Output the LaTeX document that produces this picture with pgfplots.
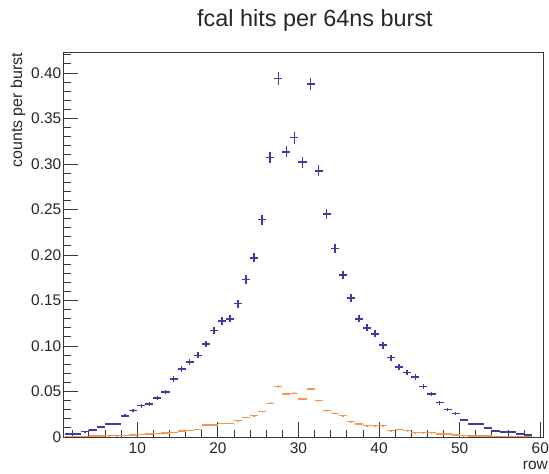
\documentclass[border=0pt]{standalone}
\usepackage{pgfplots}
\pgfplotsset{compat=1.18}
\usepackage{pgfplotstable}
\usepackage{fontspec}
\setmainfont{Liberation Sans}
\definecolor{hblue}{RGB}{60,60,160}
\definecolor{horange}{RGB}{245,150,80}
\definecolor{axgray}{RGB}{55,55,55}

\pgfplotstableread{
x y ey
1.5 0.0030 0.0006
2.5 0.0035 0.0007
3.5 0.0060 0.0009
4.5 0.0077 0.0010
5.5 0.0110 0.0012
6.5 0.0143 0.0014
7.5 0.0143 0.0014
8.5 0.0234 0.0017
9.5 0.0290 0.0019
10.5 0.0344 0.0021
11.5 0.0363 0.0022
12.5 0.0427 0.0023
13.5 0.0497 0.0025
14.5 0.0637 0.0029
15.5 0.0747 0.0031
16.5 0.0824 0.0032
17.5 0.0897 0.0034
18.5 0.1020 0.0036
19.5 0.1170 0.0039
20.5 0.1275 0.0040
21.5 0.1300 0.0041
22.5 0.1465 0.0043
23.5 0.1730 0.0047
24.5 0.1970 0.0050
25.5 0.2390 0.0055
26.5 0.3070 0.0063
27.5 0.3940 0.0071
28.5 0.3135 0.0063
29.5 0.3290 0.0065
30.5 0.3020 0.0062
31.5 0.3880 0.0070
32.5 0.2926 0.0061
33.5 0.2450 0.0056
34.5 0.2070 0.0051
35.5 0.1780 0.0048
36.5 0.1530 0.0044
37.5 0.1300 0.0041
38.5 0.1200 0.0039
39.5 0.1135 0.0038
40.5 0.1008 0.0036
41.5 0.0872 0.0033
42.5 0.0769 0.0031
43.5 0.0707 0.0030
44.5 0.0660 0.0029
45.5 0.0553 0.0027
46.5 0.0470 0.0024
47.5 0.0377 0.0022
48.5 0.0304 0.0020
49.5 0.0260 0.0018
50.5 0.0187 0.0015
51.5 0.0140 0.0013
52.5 0.0140 0.0013
53.5 0.0096 0.0011
54.5 0.0069 0.0009
55.5 0.0052 0.0008
56.5 0.0052 0.0008
57.5 0.0033 0.0006
58.5 0.0019 0.0005
}\bluedata

\pgfplotstableread{
x y ey
1.5 0.0005 0.0002
2.5 0.0006 0.0002
3.5 0.0008 0.0002
4.5 0.0010 0.0003
5.5 0.0012 0.0003
6.5 0.0014 0.0003
7.5 0.0015 0.0003
8.5 0.0018 0.0003
9.5 0.0021 0.0003
10.5 0.0030 0.0004
11.5 0.0035 0.0004
12.5 0.0040 0.0005
13.5 0.0045 0.0005
14.5 0.0052 0.0005
15.5 0.0065 0.0005
16.5 0.0072 0.0005
17.5 0.0085 0.0006
18.5 0.0132 0.0007
19.5 0.0132 0.0007
20.5 0.0150 0.0007
21.5 0.0150 0.0007
22.5 0.0179 0.0008
23.5 0.0216 0.0009
24.5 0.0234 0.0009
25.5 0.0278 0.0010
26.5 0.0370 0.0011
27.5 0.0553 0.0013
28.5 0.0473 0.0012
29.5 0.0480 0.0012
30.5 0.0418 0.0012
31.5 0.0527 0.0013
32.5 0.0400 0.0011
33.5 0.0290 0.0010
34.5 0.0260 0.0010
35.5 0.0234 0.0009
36.5 0.0168 0.0008
37.5 0.0143 0.0007
38.5 0.0124 0.0007
39.5 0.0124 0.0007
40.5 0.0124 0.0007
41.5 0.0069 0.0005
42.5 0.0085 0.0006
43.5 0.0069 0.0005
44.5 0.0047 0.0004
45.5 0.0047 0.0004
46.5 0.0047 0.0004
47.5 0.0033 0.0004
48.5 0.0033 0.0004
49.5 0.0020 0.0003
50.5 0.0015 0.0003
51.5 0.0012 0.0003
52.5 0.0010 0.0002
53.5 0.0009 0.0002
54.5 0.0008 0.0002
55.5 0.0006 0.0002
56.5 0.0005 0.0002
57.5 0.0004 0.0002
58.5 0.0003 0.0002
}\orangedata

\begin{document}
\begin{tikzpicture}
\useasboundingbox (0,0) rectangle (549bp,474bp);
\begin{axis}[
  at={(63.3bp,37bp)}, anchor=south west,
  scale only axis, width=480.2bp, height=384bp,
  xmin=0.82, xmax=60.4, ymin=0, ymax=0.422,
  xtick={10,20,30,40,50,60},
  minor xtick={2,4,6,8,12,14,16,18,22,24,26,28,32,34,36,38,42,44,46,48,52,54,56,58},
  ytick={0,0.05,0.1,0.15,0.2,0.25,0.3,0.35,0.4},
  yticklabels={0,0.05,0.10,0.15,0.20,0.25,0.30,0.35,0.40},
  minor ytick={0.01,0.02,0.03,0.04,0.06,0.07,0.08,0.09,0.11,0.12,0.13,0.14,0.16,0.17,0.18,0.19,0.21,0.22,0.23,0.24,0.26,0.27,0.28,0.29,0.31,0.32,0.33,0.34,0.36,0.37,0.38,0.39,0.41,0.42},
  tick align=inside, tick pos=left,
  major tick length=15bp, minor tick length=7.5bp,
  tick style={axgray, line width=0.9bp},
  axis line style={axgray, line width=1bp},
  /pgf/number format/assume math mode=true,
  ticklabel style={font=\fontsize{15.5}{16}\selectfont, text=black!85},
  xticklabel style={inner sep=0pt, yshift=-5.5bp},
  yticklabel style={inner sep=0pt, xshift=-1.8bp},
  clip=true,
]
\addplot[draw=none, mark=none,
  error bars/.cd, x dir=both, x fixed=0.5, y dir=both, y explicit,
  error mark=none, error bar style={draw=hblue, line width=1.6bp}]
  table[x=x, y=y, y error=ey]{\bluedata};
\addplot[draw=none, mark=none,
  error bars/.cd, x dir=both, x fixed=0.5, y dir=both, y explicit,
  error mark=none, error bar style={draw=horange, line width=1.4bp}]
  table[x=x, y=y, y error=ey]{\orangedata};
\end{axis}
\node[anchor=base, font=\fontsize{23.5}{24}\selectfont, text=black!85] at (315bp,447.5bp) {fcal hits per 64ns burst};
\node[anchor=east, rotate=90, font=\fontsize{16}{17}\selectfont, text=black!85, inner sep=0pt] at (18bp,421bp) {counts per burst};
\node[anchor=base east, font=\fontsize{15.5}{16}\selectfont, text=black!85, inner sep=0pt] at (548bp,5bp) {row};
\end{tikzpicture}
\end{document}
